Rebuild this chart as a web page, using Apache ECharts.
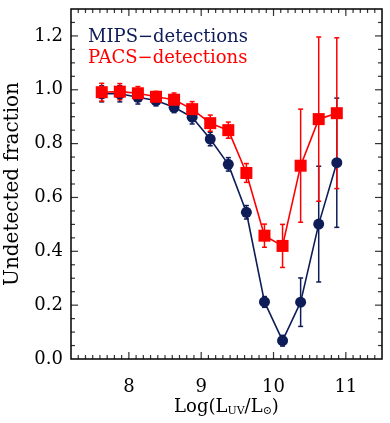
<!DOCTYPE html>
<html>
<head>
<meta charset="utf-8">
<script src="https://cdn.jsdelivr.net/npm/echarts@6.0.0/dist/echarts.min.js"></script>
<style>
  html, body { margin: 0; padding: 0; background: #fff; }
  #chart { width: 390px; height: 423px; }
</style>
</head>
<body>
<div id="chart"></div>
<script>
// bin centres, Log(L_UV/L_sun)
var logLuv = [7.625, 7.875, 8.125, 8.375, 8.625, 8.875, 9.125, 9.375, 9.625, 9.875, 10.125, 10.375, 10.625, 10.875];
var mipsFrac = [0.985, 0.985, 0.972, 0.960, 0.935, 0.898, 0.817, 0.723, 0.545, 0.212, 0.068, 0.211, 0.501, 0.729];
var mipsErr = [0.030, 0.030, 0.025, 0.020, 0.020, 0.025, 0.025, 0.025, 0.025, 0.020, 0.020, 0.090, 0.215, 0.240];
var pacsFrac = [0.991, 0.993, 0.987, 0.974, 0.963, 0.928, 0.876, 0.850, 0.691, 0.458, 0.420, 0.718, 0.891, 0.913];
var pacsErr = [0.033, 0.030, 0.025, 0.020, 0.025, 0.028, 0.030, 0.030, 0.035, 0.043, 0.080, 0.210, 0.305, 0.280];
var xTickLabels = [8, 9, 10, 11];
var yTickLabels = [0, 0.2, 0.4, 0.6, 0.8, 1.0, 1.2];

var xMin = 7.2, xMax = 11.5, yMin = 0, yMax = 1.3;
var navy = '#0e1c58';
var red = '#ff0000';
var font = 'DejaVu Serif';

// inward tick marks on all four sides, minor every 0.1 in x and 0.05 in y
var tickMarks = [];
for (var i = 73; i <= 114; i++) {
  var lx = i % 10 === 0 ? 7 : 4;
  tickMarks.push({ value: [i / 10, yMin], symbolSize: [1.2, lx], symbolOffset: [0, -lx / 2] });
  tickMarks.push({ value: [i / 10, yMax], symbolSize: [1.2, lx], symbolOffset: [0, lx / 2] });
}
for (var j = 1; j <= 25; j++) {
  var ly = j % 4 === 0 ? 7 : 4;
  tickMarks.push({ value: [xMin, j / 20], symbolSize: [ly, 1.2], symbolOffset: [ly / 2, 0] });
  tickMarks.push({ value: [xMax, j / 20], symbolSize: [ly, 1.2], symbolOffset: [-ly / 2, 0] });
}

function pts(ys) {
  return logLuv.map(function (x, k) { return [x, ys[k]]; });
}
function bars(ys, es) {
  return logLuv.map(function (x, k) { return [x, ys[k] - es[k], ys[k] + es[k]]; });
}

function seg(x1, y1, x2, y2, style) {
  return { type: 'line', shape: { x1: x1, y1: y1, x2: x2, y2: y2 }, style: style };
}

function errorBar(params, api) {
  var x = api.value(0);
  var lo = api.coord([x, api.value(1)]);
  var hi = api.coord([x, api.value(2)]);
  var w = 2.5;
  var style = { stroke: api.visual('color'), lineWidth: 1.5 };
  return {
    type: 'group',
    children: [
      seg(hi[0], hi[1], lo[0], lo[1], style),
      seg(hi[0] - w, hi[1], hi[0] + w, hi[1], style),
      seg(lo[0] - w, lo[1], lo[0] + w, lo[1], style)
    ]
  };
}

var chart = echarts.init(document.getElementById('chart'), null, { renderer: 'canvas' });
chart.setOption({
  animation: false,
  backgroundColor: '#fff',
  grid: {
    left: 71, right: 8, top: 9, bottom: 64, containLabel: false, outerBoundsMode: 'none',
    show: true, borderColor: '#000', borderWidth: 1.5, backgroundColor: 'transparent'
  },
  legend: {
    orient: 'vertical', left: 78, top: 22, itemGap: 0,
    itemWidth: 0, itemHeight: 0, selectedMode: false,
    textStyle: { fontFamily: font, fontSize: 18, lineHeight: 21 },
    data: [
      { name: 'MIPS−detections', icon: 'none', textStyle: { color: navy } },
      { name: 'PACS−detections', icon: 'none', textStyle: { color: red } }
    ]
  },
  xAxis: {
    type: 'value', min: xMin, max: xMax,
    axisLine: { show: false, onZero: false },
    axisTick: { show: false },
    axisLabel: { customValues: xTickLabels, margin: 19, color: '#000', fontFamily: font, fontSize: 18 },
    splitLine: { show: false },
    name: 'Log(L{s|UV}/L{s|⊙})',
    nameLocation: 'middle',
    nameGap: 38,
    nameMoveOverlap: false,
    nameTextStyle: {
      color: '#000', fontFamily: font, fontSize: 18, lineHeight: 20,
      rich: { s: { fontFamily: font, fontSize: 11, lineHeight: 13, verticalAlign: 'bottom', color: '#000' } }
    }
  },
  yAxis: {
    type: 'value', min: yMin, max: yMax,
    axisLine: { show: false, onZero: false },
    axisTick: { show: false },
    axisLabel: {
      customValues: yTickLabels, margin: 8, color: '#000', fontFamily: font, fontSize: 18,
      formatter: function (v) { return v.toFixed(1); }
    },
    splitLine: { show: false },
    name: 'Undetected fraction',
    nameLocation: 'middle',
    nameGap: 48,
    nameTextStyle: { color: '#000', fontFamily: font, fontSize: 20 }
  },
  series: [
    {
      name: 'ticks', type: 'scatter', data: tickMarks, symbol: 'rect',
      itemStyle: { color: '#000' }, clip: false, silent: true, z: 5
    },
    {
      name: 'MIPS errors', type: 'custom', renderItem: errorBar,
      itemStyle: { color: navy }, data: bars(mipsFrac, mipsErr),
      encode: { x: 0, y: [1, 2] }
    },
    {
      name: 'MIPS−detections', type: 'line', data: pts(mipsFrac),
      symbol: 'circle', symbolSize: 11,
      itemStyle: { color: navy }, lineStyle: { color: navy, width: 1.6 }
    },
    {
      name: 'PACS errors', type: 'custom', renderItem: errorBar,
      itemStyle: { color: red }, data: bars(pacsFrac, pacsErr),
      encode: { x: 0, y: [1, 2] }
    },
    {
      name: 'PACS−detections', type: 'line', data: pts(pacsFrac),
      symbol: 'rect', symbolSize: 12,
      itemStyle: { color: red }, lineStyle: { color: red, width: 1.6 }
    }
  ]
});
</script>
</body>
</html>
